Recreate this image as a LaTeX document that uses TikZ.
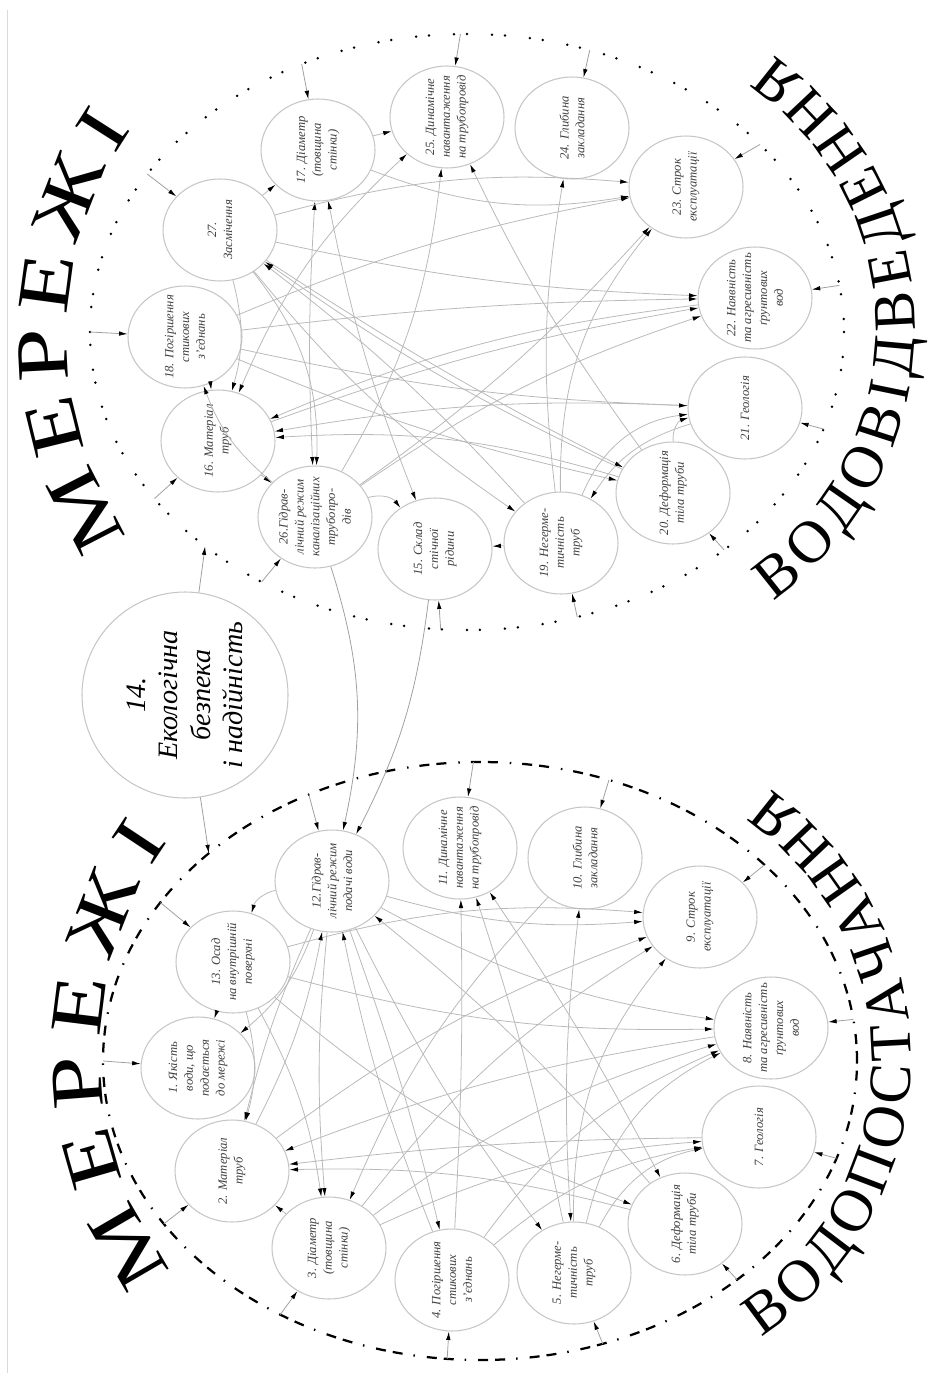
\documentclass[tikz,border=0pt]{standalone}
\usepackage{fontspec}
\setmainfont{Liberation Serif}
\newfontfamily\widefamily[FakeStretch=1.3]{Liberation Serif}
\usetikzlibrary{arrows.meta,shapes.geometric,decorations.text}
\newcommand\archfont{\fontsize{34}{34}\selectfont}
\newcommand\widearch{\widefamily\fontsize{42}{42}\selectfont}

\begin{document}
\begin{tikzpicture}[x=0.2mm,y=0.2mm,
  factor/.style={ellipse,draw=gray!45,line width=0.6pt,rotate=90,minimum width=20.4mm,minimum height=22.8mm,inner sep=-3mm,align=center,text=black!75,font=\fontsize{7.2}{9}\selectfont\itshape},
  link/.style={draw=gray!55,line width=0.45pt,-{Latex[length=1.7mm,width=0.9mm,color=black]}},
  biline/.style={link,{Latex[length=1.7mm,width=0.9mm,color=black]}-{Latex[length=1.7mm,width=0.9mm,color=black]}},
  feed/.style={draw=gray!75,line width=0.45pt,-{Latex[length=1.7mm,width=0.9mm,color=black]}},
  dotring/.style={line width=0.55mm,line cap=round,dash pattern=on 0pt off 2.6mm on 0pt off 5mm},
  dashring/.style={line width=0.45mm,dash pattern=on 2mm off 1.4mm on 2mm off 2.2mm on 0.3mm off 2.4mm}]
\useasboundingbox (0,0) rectangle (928,-1373);
\draw[gray!30,line width=0.4pt] (7,-10) -- (7,-1373);

\draw[dotring] (467,-332) ellipse[x radius=377,y radius=298];
\draw[dashring] (480,-1061) ellipse[x radius=377,y radius=299];
\path (467,-332) coordinate (ctop);
\path (480,-1061) coordinate (cbot);

\path[decorate,decoration={text along path,text align=fit to path,text={|\widearch|МЕРЕЖІ}}]
  (427,-335) ++(214:360) arc[start angle=214,end angle=145,radius=360];
\path[decorate,decoration={text along path,text align=fit to path,text={|\archfont|ВОДОВІДВЕДЕННЯ}}]
  (582,-328) ++(-55:333) arc[start angle=-55,end angle=55,radius=333];
\path[decorate,decoration={text along path,text align=fit to path,text={|\widearch|МЕРЕЖІ}}]
  (460,-1053) ++(217:360) arc[start angle=217,end angle=144,radius=360];
\path[decorate,decoration={text along path,text align=fit to path,text={|\archfont|ВОДОПОСТАЧАННЯ}}]
  (581,-1060) ++(-57:330) arc[start angle=-57,end angle=55,radius=330];

\node[circle,draw=gray!45,line width=0.6pt,rotate=90,minimum size=41.2mm,inner sep=0pt,align=center,font=\fontsize{16}{18.5}\selectfont\itshape] (n14) at (185,-695) {14.\\Екологічна\\безпека\\і надійність};

\node[factor] (n27) at (220,-230) {27.\\Засмічення};
\node[factor] (n17) at (318,-150) {17. Діаметр\\(товщина\\стінки)};
\node[factor] (n25) at (447,-117) {25. Динамічне\\навантаження\\на трубопровід};
\node[factor] (n24) at (572,-128) {24. Глибина\\закладання};
\node[factor] (n23) at (686,-187) {23. Строк\\експлуатації};
\node[factor] (n22) at (755,-298) {22. Наявність\\та агресивність\\ґрунтових\\вод};
\node[factor] (n21) at (745,-408) {21. Геологія};
\node[factor] (n20) at (673,-493) {20. Деформація\\тіла труби};
\node[factor] (n19) at (561,-543) {19. Негерме-\\тичність\\труб};
\node[factor] (n15) at (435,-549) {15. Склад\\стічної\\рідини};
\node[factor] (n26) at (315,-517) {26.Гідрав-\\лічний режим\\каналізаційних\\трубопро-\\дів};
\node[factor] (n16) at (218,-441) {16. Матеріал\\труб};
\node[factor] (n18) at (185,-337) {18. Погіршення\\стикових\\з’єднань};

\node[factor] (n12) at (332,-881) {12.Гідрав-\\лічний режим\\подачі води};
\node[factor] (n13) at (233,-962) {13. Осад\\на внутрішній\\поверхні};
\node[factor] (n1) at (198,-1068) {1. Якість\\води, що\\подається\\до мережі};
\node[factor] (n2) at (232,-1171) {2. Матеріал\\труб};
\node[factor] (n3) at (329,-1248) {3. Діаметр\\(товщина\\стінки)};
\node[factor] (n4) at (452,-1280) {4. Погіршення\\стикових\\з’єднань};
\node[factor] (n5) at (574,-1273) {5. Негерме-\\тичність\\труб};
\node[factor] (n6) at (685,-1224) {6. Деформація\\тіла труби};
\node[factor] (n7) at (759,-1137) {7. Геологія};
\node[factor] (n8) at (771,-1028) {8. Наявність\\та агресивність\\ґрунтових\\вод};
\node[factor] (n9) at (700,-917) {9. Строк\\експлуатації};
\node[factor] (n10) at (585,-858) {10. Глибина\\закладання};
\node[factor] (n11) at (460,-848) {11. Динамічне\\навантаження\\на трубопровід};

\path (ctop) ++(148:377 and 298) coordinate (e27);
\path (ctop) ++(116:377 and 298) coordinate (e17);
\path (ctop) ++(91:377 and 298) coordinate (e25);
\path (ctop) ++(71:377 and 298) coordinate (e24);
\path (ctop) ++(39:377 and 298) coordinate (e23);
\path (ctop) ++(9:377 and 298) coordinate (e22);
\path (ctop) ++(-19:377 and 298) coordinate (e21);
\path (ctop) ++(-47:377 and 298) coordinate (e20);
\path (ctop) ++(-73:377 and 298) coordinate (e19);
\path (ctop) ++(-94:377 and 298) coordinate (e15);
\path (ctop) ++(-123:377 and 298) coordinate (e26);
\path (ctop) ++(-146:377 and 298) coordinate (e16);
\path (ctop) ++(180:377 and 298) coordinate (e18);
\path (ctop) ++(-134:377 and 298) coordinate (t14);

\path (cbot) ++(117:377 and 299) coordinate (e12);
\path (cbot) ++(148:377 and 299) coordinate (e13);
\path (cbot) ++(180:377 and 299) coordinate (e1);
\path (cbot) ++(-147:377 and 299) coordinate (e2);
\path (cbot) ++(-122:377 and 299) coordinate (e3);
\path (cbot) ++(-95:377 and 299) coordinate (e4);
\path (cbot) ++(-71:377 and 299) coordinate (e5);
\path (cbot) ++(-47:377 and 299) coordinate (e6);
\path (cbot) ++(-19:377 and 299) coordinate (e7);
\path (cbot) ++(8:377 and 299) coordinate (e8);
\path (cbot) ++(41:377 and 299) coordinate (e9);
\path (cbot) ++(70:377 and 299) coordinate (e10);
\path (cbot) ++(91:377 and 299) coordinate (e11);
\path (cbot) ++(136:377 and 299) coordinate (b14);

\draw[feed] (n14) -- (t14);
\draw[feed] (n14) -- (b14);
\foreach \k in {27,17,25,24,23,22,21,20,19,15,26,16,18,12,13,1,2,3,4,5,6,7,8,9,10,11}
  \draw[feed] (e\k) -- (n\k);

\draw[link] (n27) -- (n17);
\draw[link] (n17) -- (n25);
\draw[link] (n16) -- (n26);
\draw[link] (n19) -- (n15);
\draw[link] (n27) to[bend left=15] (n16);
\draw[link] (n18) to[bend left=10] (n16);
\draw[biline] (n16) to[bend left=12] (n25);
\draw[link] (n21) to[bend right=6] (n16);
\draw[link] (n22) to[bend right=8] (n16);
\draw[link] (n20) to[bend right=10] (n16);
\draw[biline] (n17) to[bend right=3] (n26);
\draw[link] (n27) to[bend left=20] (n26);
\draw[link] (n26) to[bend left=35] (n15);
\draw[biline] (n17) to[bend right=5] (n15);
\draw[link] (n27) to[bend right=8] (n19);
\draw[link] (n21) to[bend right=20] (n19);
\draw[link] (n19) to[bend left=8] (n24);
\draw[link] (n20) to[bend left=5] (n25);
\draw[link] (n26) to[bend right=12] (n25);
\draw[link] (n27) to[bend left=10] (n23);
\draw[link] (n18) to[bend left=6] (n23);
\draw[link] (n17) to[bend right=15] (n23);
\draw[link] (n26) to[bend right=6] (n23);
\draw[link] (n19) to[bend left=20] (n23);
\draw[link] (n27) to[bend right=5] (n22);
\draw[link] (n18) to[bend left=3] (n22);
\draw[link] (n16) to[bend left=5] (n22);
\draw[link] (n26) to[bend left=8] (n22);
\draw[link] (n18) to[bend right=5] (n21);
\draw[link] (n19) to[bend left=30] (n21);
\draw[link] (n20) to[bend left=40] (n21);
\draw[link] (n18) to[bend right=5] (n20);
\draw[link] (n27) to[bend right=3] (n20);
\draw[link] (n19) to[bend right=5] (n27);
\draw[link] (n20) to[bend left=5] (n27);
\draw[link] (n26) to[bend left=15] (n18);

\draw[feed] (n26) to[bend left=15] (n12);
\draw[feed] (n15) to[bend left=10] (n12);

\draw[link] (n12) to[bend right=30] (n13);
\draw[link] (n13) -- (n1);
\draw[link] (n12) to[bend left=15] (n1);
\draw[link] (n13) to[bend left=15] (n2);
\draw[link] (n12) to[bend right=5] (n2);
\draw[link] (n8) to[bend right=6] (n2);
\draw[link] (n7) to[bend right=3] (n2);
\draw[link] (n6) to[bend right=8] (n2);
\draw[link] (n3) -- (n2);
\draw[link] (n13) to[bend left=10] (n3);
\draw[link] (n12) to[bend right=5] (n3);
\draw[link] (n10) to[bend right=10] (n3);
\draw[link] (n12) to[bend left=3] (n4);
\draw[link] (n12) to[bend right=5] (n5);
\draw[biline] (n5) to[bend left=5] (n10);
\draw[link] (n13) to[bend right=10] (n6);
\draw[biline] (n6) to[bend right=3] (n11);
\draw[link] (n3) to[bend left=10] (n7);
\draw[link] (n4) to[bend left=15] (n7);
\draw[link] (n5) to[bend left=25] (n7);
\draw[link] (n13) to[bend right=8] (n8);
\draw[link] (n12) to[bend right=10] (n8);
\draw[link] (n3) to[bend left=10] (n8);
\draw[link] (n4) to[bend left=15] (n8);
\draw[link] (n5) to[bend left=25] (n8);
\draw[link] (n13) to[bend left=10] (n9);
\draw[link] (n2) to[bend left=8] (n9);
\draw[link] (n3) to[bend left=10] (n9);
\draw[link] (n12) to[bend right=10] (n9);
\draw[link] (n5) to[bend left=20] (n9);
\draw[link] (n4) to[bend right=2] (n11);
\draw[link] (n5) to[bend right=3] (n11);
\draw[link] (n2) to[bend right=8] (n12);
\draw[link] (n4) to[bend left=5] (n12);
\draw[link] (n6) to[bend right=5] (n12);
\end{tikzpicture}
\end{document}
